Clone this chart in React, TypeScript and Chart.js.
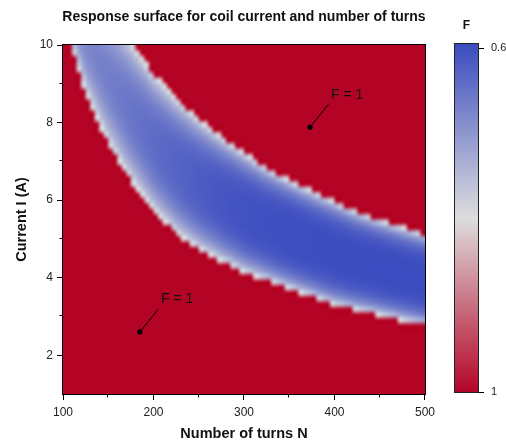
import { useEffect, useRef } from 'react';
import { Chart, registerables } from 'chart.js';

Chart.register(...registerables);

// Response surface F(N, I): outside the feasible band F = 1.
// The band is described column by column (number of turns N).
const turnsKnots = [100, 125, 150, 175, 200, 225, 250, 275, 300, 325, 350, 375, 400, 425, 450, 475, 500];
const lowerEdgeCurrent = [10.6, 8.7, 7.42, 6.48, 5.71, 5.13, 4.72, 4.41, 4.12, 3.91, 3.7, 3.49, 3.28, 3.14, 3.02, 2.88, 2.75];
const upperEdgeCurrent = [12.6, 11.6, 10.9, 10.1, 9.28, 8.64, 8.11, 7.65, 7.24, 6.85, 6.53, 6.25, 5.98, 5.72, 5.5, 5.31, 5.13];
const valleyF = [0.685, 0.675, 0.665, 0.652, 0.64, 0.628, 0.618, 0.609, 0.603, 0.6, 0.598, 0.597, 0.596, 0.596, 0.595, 0.595, 0.595];
const valleySharpness = [2, 2, 2.2, 2.5, 2.8, 3, 3.2, 3.4, 3.6, 3.8, 4, 4, 4, 4, 4, 4, 4];
const bandEdgeF = 0.8;

const xTicks = [100, 200, 300, 400, 500];
const yTicks = [2, 4, 6, 8, 10];
const xMinorTicks = [150, 250, 350, 450];
const yMinorTicks = [3, 5, 7, 9];
const colorbarTicks = [0.6, 1];

const markerTurns = [373, 185];
const markerCurrent = [7.88, 2.6];
const markerLabels = ['F = 1', 'F = 1'];

const N_MIN = 100;
const N_MAX = 500;
const I_MIN = 1;
const I_MAX = 10;
const F_MIN = 0.595;
const F_MAX = 1;
const GRID_COLS = 80;
const GRID_ROWS = 64;

const FONT = "'Liberation Sans', Arial, sans-serif";
const TITLE = 'Response surface for coil current and number of turns';

const BLUE = [59, 76, 192];
const GRAY = [221, 221, 221];
const RED = [180, 4, 38];

function colorFor(f: number): [number, number, number] {
  let t = (f - F_MIN) / (F_MAX - F_MIN);
  t = Math.max(0, Math.min(1, t));
  const a = t < 0.5 ? BLUE : GRAY;
  const b = t < 0.5 ? GRAY : RED;
  const u = t < 0.5 ? t * 2 : (t - 0.5) * 2;
  return [0, 1, 2].map((k) => Math.round(a[k] + (b[k] - a[k]) * u)) as [number, number, number];
}

function atTurns(arr: number[], n: number): number {
  const step = turnsKnots[1] - turnsKnots[0];
  const t = (n - turnsKnots[0]) / step;
  const i = Math.max(0, Math.min(arr.length - 2, Math.floor(t)));
  const f = t - i;
  return arr[i] * (1 - f) + arr[i + 1] * f;
}

function surfaceF(n: number, current: number): number {
  const lo = atTurns(lowerEdgeCurrent, n);
  const hi = atTurns(upperEdgeCurrent, n);
  if (current < lo || current > hi) return 1;
  const s = (current - lo) / (hi - lo);
  const fmin = atTurns(valleyF, n);
  const p = atTurns(valleySharpness, n);
  return fmin + (bandEdgeF - fmin) * Math.pow(Math.abs(2 * s - 1), p);
}

function buildSurfaceImage(): HTMLCanvasElement {
  const c = document.createElement('canvas');
  c.width = GRID_COLS;
  c.height = GRID_ROWS;
  const g = c.getContext('2d')!;
  const img = g.createImageData(GRID_COLS, GRID_ROWS);
  for (let r = 0; r < GRID_ROWS; r++) {
    const current = I_MAX - ((r + 0.5) * (I_MAX - I_MIN)) / GRID_ROWS;
    for (let col = 0; col < GRID_COLS; col++) {
      const n = N_MIN + ((col + 0.5) * (N_MAX - N_MIN)) / GRID_COLS;
      const [R, G, B] = colorFor(surfaceF(n, current));
      const idx = (r * GRID_COLS + col) * 4;
      img.data[idx] = R;
      img.data[idx + 1] = G;
      img.data[idx + 2] = B;
      img.data[idx + 3] = 255;
    }
  }
  g.putImageData(img, 0, 0);
  return c;
}

export default function App() {
  const mainRef = useRef<HTMLCanvasElement>(null);
  const barRef = useRef<HTMLCanvasElement>(null);

  useEffect(() => {
    const surface = buildSurfaceImage();

    const heatmapPlugin = {
      id: 'surfaceImage',
      beforeDatasetsDraw(chart: any) {
        const { ctx, chartArea, scales } = chart;
        const x0 = scales.x.getPixelForValue(N_MIN);
        const x1 = scales.x.getPixelForValue(N_MAX);
        const y0 = scales.y.getPixelForValue(I_MAX);
        const y1 = scales.y.getPixelForValue(I_MIN);
        ctx.save();
        ctx.beginPath();
        ctx.rect(chartArea.left, chartArea.top, chartArea.right - chartArea.left, chartArea.bottom - chartArea.top);
        ctx.clip();
        ctx.imageSmoothingEnabled = true;
        ctx.imageSmoothingQuality = 'high';
        ctx.drawImage(surface, x0, y0, x1 - x0, y1 - y0);
        ctx.restore();
      },
    };

    const decorPlugin = {
      id: 'decor',
      afterDatasetsDraw(chart: any) {
        const { ctx, chartArea, scales } = chart;
        const { left, right, top, bottom } = chartArea;
        ctx.save();
        // markers with leader lines
        for (let k = 0; k < markerTurns.length; k++) {
          const px = scales.x.getPixelForValue(markerTurns[k]);
          const py = scales.y.getPixelForValue(markerCurrent[k]);
          ctx.strokeStyle = '#000';
          ctx.lineWidth = 1;
          ctx.beginPath();
          ctx.moveTo(px, py);
          ctx.lineTo(px + 18.5, py - 23);
          ctx.stroke();
          ctx.fillStyle = '#000';
          ctx.beginPath();
          ctx.arc(px, py, 2.6, 0, Math.PI * 2);
          ctx.fill();
          ctx.fillStyle = '#111';
          ctx.font = `14px ${FONT}`;
          ctx.textAlign = 'left';
          ctx.textBaseline = 'middle';
          ctx.fillText(markerLabels[k], px + 21, py - 32.5);
        }
        // frame
        ctx.strokeStyle = '#000';
        ctx.lineWidth = 1;
        ctx.strokeRect(left - 0.5, top - 0.5, right - left + 1, bottom - top + 1);
        // minor ticks
        ctx.beginPath();
        for (const v of xMinorTicks) {
          const px = Math.round(scales.x.getPixelForValue(v)) - 0.5;
          ctx.moveTo(px, bottom);
          ctx.lineTo(px, bottom + 3.5);
        }
        for (const v of yMinorTicks) {
          const py = Math.round(scales.y.getPixelForValue(v)) - 0.5;
          ctx.moveTo(left - 3.5, py);
          ctx.lineTo(left, py);
        }
        ctx.stroke();
        // title
        ctx.fillStyle = '#111';
        ctx.font = `bold 14px ${FONT}`;
        ctx.textAlign = 'center';
        ctx.textBaseline = 'middle';
        ctx.fillText(TITLE, (left + right) / 2, 17);
        ctx.restore();
      },
    };

    const main = new Chart(mainRef.current!, {
      type: 'scatter',
      data: { datasets: [{ data: [] }] },
      options: {
        animation: false,
        responsive: false,
        maintainAspectRatio: false,
        layout: { padding: { top: 45, right: 13, bottom: 0, left: 0 } },
        plugins: { legend: { display: false }, tooltip: { enabled: false }, title: { display: false } },
        scales: {
          x: {
            type: 'linear',
            position: 'bottom',
            min: N_MIN,
            max: N_MAX,
            afterBuildTicks: (s: any) => {
              s.ticks = xTicks.map((v) => ({ value: v }));
            },
            afterFit: (s: any) => {
              s.height = 52;
            },
            grid: { drawOnChartArea: false, drawTicks: true, tickLength: 6, tickColor: '#000', tickWidth: 1 },
            border: { display: true, color: '#000', width: 1 },
            ticks: { color: '#222', font: { family: FONT, size: 12 }, padding: 5, maxRotation: 0, autoSkip: false },
            title: {
              display: true,
              text: 'Number of turns N',
              color: '#111',
              font: { family: FONT, size: 14.5, weight: 'bold' },
              padding: { top: 0, bottom: 3.5 },
            },
          },
          y: {
            type: 'linear',
            position: 'left',
            min: I_MIN,
            max: I_MAX,
            afterBuildTicks: (s: any) => {
              s.ticks = yTicks.map((v) => ({ value: v }));
            },
            afterFit: (s: any) => {
              s.width = 63;
            },
            grid: { drawOnChartArea: false, drawTicks: true, tickLength: 6, tickColor: '#000', tickWidth: 1 },
            border: { display: true, color: '#000', width: 1 },
            ticks: { color: '#222', font: { family: FONT, size: 12 }, padding: 4, autoSkip: false },
            title: {
              display: true,
              text: 'Current I (A)',
              color: '#111',
              font: { family: FONT, size: 14.5, weight: 'bold' },
              padding: { top: 13.5, bottom: 0 },
            },
          },
        },
      },
      plugins: [heatmapPlugin, decorPlugin],
    } as any);

    const gradientPlugin = {
      id: 'colorbarFill',
      beforeDatasetsDraw(chart: any) {
        const { ctx, chartArea, scales } = chart;
        const { left, right, top, bottom } = chartArea;
        ctx.save();
        for (let py = Math.floor(top); py < Math.ceil(bottom); py++) {
          const f = scales.y.getValueForPixel(py + 0.5);
          const [R, G, B] = colorFor(f);
          ctx.fillStyle = `rgb(${R},${G},${B})`;
          ctx.fillRect(left, py, right - left, 1);
        }
        ctx.restore();
      },
      afterDraw(chart: any) {
        const { ctx, chartArea } = chart;
        const { left, right, top, bottom } = chartArea;
        ctx.save();
        ctx.strokeStyle = '#222';
        ctx.lineWidth = 1;
        ctx.strokeRect(left - 0.5, top - 0.5, right - left + 1, bottom - top + 1);
        ctx.fillStyle = '#111';
        ctx.font = `bold 12px ${FONT}`;
        ctx.textAlign = 'center';
        ctx.textBaseline = 'middle';
        ctx.fillText('F', (left + right) / 2, 26);
        ctx.restore();
      },
    };

    const bar = new Chart(barRef.current!, {
      type: 'scatter',
      data: { datasets: [{ data: [] }] },
      options: {
        animation: false,
        responsive: false,
        maintainAspectRatio: false,
        layout: { padding: { top: 44, right: 0, bottom: 54, left: 15 } },
        plugins: { legend: { display: false }, tooltip: { enabled: false } },
        scales: {
          x: { display: false, min: 0, max: 1 },
          y: {
            type: 'linear',
            position: 'right',
            reverse: true,
            min: F_MIN,
            max: F_MAX,
            afterBuildTicks: (s: any) => {
              s.ticks = colorbarTicks.map((v) => ({ value: v }));
            },
            afterFit: (s: any) => {
              s.width = 28;
            },
            grid: { drawOnChartArea: false, drawTicks: true, tickLength: 6, tickColor: '#000' },
            border: { display: false },
            ticks: {
              color: '#222',
              font: { family: FONT, size: 11 },
              padding: 7,
              callback: (v: any) => String(v),
            },
          },
        },
      },
      plugins: [gradientPlugin],
    } as any);

    return () => {
      main.destroy();
      bar.destroy();
    };
  }, []);

  return (
    <div style={{ position: 'fixed', left: 0, top: 0, width: 506, height: 446, background: '#fff' }}>
      <canvas ref={mainRef} width={440} height={446} style={{ position: 'absolute', left: 0, top: 0, width: 440, height: 446 }} />
      <canvas ref={barRef} width={66} height={446} style={{ position: 'absolute', left: 440, top: 0, width: 66, height: 446 }} />
    </div>
  );
}
